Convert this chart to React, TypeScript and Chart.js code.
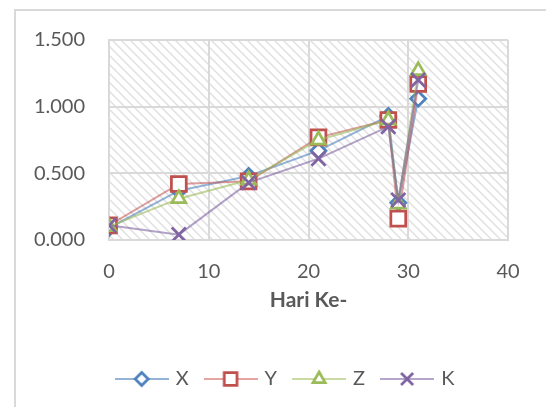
import React, { useEffect, useRef } from "react";
import { Chart, registerables } from "chart.js";
import { drawPoint } from "chart.js/helpers";

Chart.register(...registerables);

const days = [0, 7, 14, 21, 28, 29, 31];
const seriesX = [0.09, 0.37, 0.48, 0.67, 0.93, 0.28, 1.06];
const seriesY = [0.11, 0.42, 0.44, 0.77, 0.9, 0.16, 1.17];
const seriesZ = [0.1, 0.31, 0.45, 0.75, 0.9, 0.27, 1.27];
const seriesK = [0.11, 0.04, 0.43, 0.61, 0.85, 0.3, 1.2];
const seriesNames = ["X", "Y", "Z", "K"];
const xTicks = [0, 10, 20, 30, 40];
const yTicks = [0, 0.5, 1.0, 1.5];
const axisTitle = "Hari Ke-";

const FONT = "Lato, 'Open Sans', sans-serif";
const TEXT = "#595959";
const GRID = "#D9D9D9";

const styles = [
  { color: "#4F81BD", line: "rgba(79,129,189,0.6)", legendLine: "#95B3D7", point: "rectRot", r: 7.5, lr: 6.5 },
  { color: "#C0504D", line: "rgba(192,80,77,0.55)", legendLine: "#E6A5A3", point: "rect", r: 10.5, lr: 9 },
  { color: "#9BBB59", line: "rgba(155,187,89,0.6)", legendLine: "#C9DBA3", point: "triangle", r: 8, lr: 7 },
  { color: "#8064A2", line: "rgba(128,100,162,0.6)", legendLine: "#B7A6CC", point: "crossRot", r: 10, lr: 8.5 },
];

function makeLegendImage(s: any) {
  const c = document.createElement("canvas");
  c.width = 54;
  c.height = 20;
  const ctx = c.getContext("2d")!;
  ctx.strokeStyle = s.legendLine;
  ctx.lineWidth = 2;
  ctx.beginPath();
  ctx.moveTo(0, 10);
  ctx.lineTo(54, 10);
  ctx.stroke();
  ctx.fillStyle = "#ffffff";
  ctx.strokeStyle = s.color;
  ctx.lineWidth = 2.75;
  drawPoint(ctx, { pointStyle: s.point, rotation: 0, radius: s.lr, borderWidth: 2.75 } as any, 27, 10);
  return c;
}

function makeHatch() {
  const c = document.createElement("canvas");
  c.width = 9;
  c.height = 9;
  const ctx = c.getContext("2d")!;
  ctx.fillStyle = "#ffffff";
  ctx.fillRect(0, 0, 9, 9);
  ctx.strokeStyle = "#E0E0E0";
  ctx.lineWidth = 1.5;
  ctx.beginPath();
  ctx.moveTo(-2, -2);
  ctx.lineTo(11, 11);
  ctx.moveTo(-2, 7);
  ctx.lineTo(2, 11);
  ctx.moveTo(7, -2);
  ctx.lineTo(11, 2);
  ctx.stroke();
  return c;
}

export default function App() {
  const ref = useRef<HTMLCanvasElement>(null);
  useEffect(() => {
    const canvas = ref.current!;
    const hatch = makeHatch();
    const allSeries = [seriesX, seriesY, seriesZ, seriesK];
    const legendImages = styles.map(makeLegendImage);

    const bgPlugin = {
      id: "bg",
      beforeDraw(chart: any) {
        const { ctx, chartArea } = chart;
        ctx.save();
        ctx.strokeStyle = GRID;
        ctx.lineWidth = 2;
        ctx.strokeRect(15, 10, 560, 420);
        const pat = ctx.createPattern(hatch, "repeat");
        ctx.fillStyle = pat;
        ctx.fillRect(chartArea.left, chartArea.top, chartArea.right - chartArea.left, chartArea.bottom - chartArea.top);
        ctx.restore();
      },
    };

    const chart = new Chart(canvas, {
      type: "line",
      data: {
        datasets: allSeries.map((vals, i) => ({
          label: seriesNames[i],
          data: days.map((d, j) => ({ x: d, y: vals[j] })),
          borderColor: styles[i].line,
          backgroundColor: "#ffffff",
          borderWidth: 2,
          pointStyle: styles[i].point as any,
          pointRadius: styles[i].r,
          pointBorderColor: styles[i].color,
          pointBackgroundColor: "#ffffff",
          pointBorderWidth: 2.75,
          tension: 0,
          fill: false,
          order: 4 - i,
        })),
      },
      options: {
        animation: false,
        responsive: false,
        layout: { padding: { left: 30, right: 4, top: 40, bottom: 8 } },
        plugins: {
          tooltip: { enabled: false },
          legend: {
            position: "bottom",
            labels: {
              usePointStyle: true,
              pointStyleWidth: 48,
              padding: 18,
              color: TEXT,
              font: { family: FONT, size: 20 },
              sort: (a: any, b: any) => a.datasetIndex - b.datasetIndex,
              generateLabels: () =>
                seriesNames.map((n, i) => ({
                  text: n,
                  datasetIndex: i,
                  pointStyle: legendImages[i],
                  fontColor: TEXT,
                  hidden: false,
                  lineWidth: 0,
                  strokeStyle: "transparent",
                  fillStyle: "transparent",
                })),
            },
          },
        },
        scales: {
          x: {
            type: "linear",
            min: 0,
            max: 40,
            afterBuildTicks: (scale: any) => {
              scale.ticks = xTicks.map((v) => ({ value: v }));
            },
            afterFit: (scale: any) => {
              const lh = scale.chart.legend ? scale.chart.legend.height : 48;
              scale.height = 407 - 8 - lh - 240;
            },
            grid: { color: GRID, lineWidth: 2, drawTicks: false },
            border: { color: GRID, width: 2 },
            ticks: {
              padding: 20,
              color: TEXT,
              font: { family: FONT, size: 20 },
              callback: (v: any) => String(v),
            },
            title: {
              display: true,
              text: axisTitle,
              color: TEXT,
              font: { family: FONT, size: 21, weight: "bold" },
              padding: { top: 0, bottom: 38 },
            },
          },
          y: {
            type: "linear",
            position: "left",
            min: 0,
            max: 1.5,
            afterBuildTicks: (scale: any) => {
              scale.ticks = yTicks.map((v) => ({ value: v }));
            },
            afterFit: (scale: any) => {
              scale.width = 79;
            },
            grid: { color: GRID, lineWidth: 2, drawTicks: false },
            border: { color: GRID, width: 2 },
            ticks: {
              padding: 24,
              color: TEXT,
              font: { family: FONT, size: 20 },
              callback: (v: any) => Number(v).toFixed(3),
            },
          },
          yRight: {
            type: "linear",
            position: "right",
            min: 0,
            max: 1.5,
            afterFit: (scale: any) => {
              scale.width = 34;
            },
            grid: { display: false, drawOnChartArea: false },
            border: { display: false },
            ticks: { display: false },
          },
        },
      },
      plugins: [bgPlugin],
    });
    return () => chart.destroy();
  }, []);
  return (
    <div style={{ position: "fixed", left: 0, top: 0, width: 546, height: 407, background: "#fff" }}>
      <canvas ref={ref} width={546} height={407} style={{ display: "block" }} />
    </div>
  );
}
